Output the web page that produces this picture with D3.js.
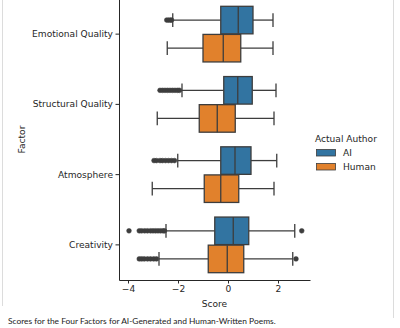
<!DOCTYPE html>
<html><head><meta charset="utf-8">
<script src="https://cdn.jsdelivr.net/npm/d3@7"></script>
<style>html,body{margin:0;padding:0;background:#fff;} svg{display:block}</style>
</head><body><svg id="c" width="400" height="328"></svg>
<script>
const factors = ["Emotional Quality","Structural Quality","Atmosphere","Creativity"];
const authors = ["AI","Human"];
const authorColors = ["#3274a1","#e1812c"];
const xTicks = [-4,-2,0,2];
// [whiskerLow, Q1, median, Q3, whiskerHigh] per factor
const aiStats = [
 [-2.21,-0.29,0.41,1.00,1.80],
 [-1.84,-0.17,0.39,0.97,1.92],
 [-2.01,-0.29,0.28,0.92,1.95],
 [-2.48,-0.53,0.21,0.83,2.67]];
const humanStats = [
 [-2.43,-1.00,-0.19,0.51,1.80],
 [-2.83,-1.15,-0.43,0.29,1.84],
 [-3.03,-0.95,-0.29,0.43,1.84],
 [-2.76,-0.79,-0.03,0.63,2.59]];
const aiOutliers = [
 [-2.45,-2.38,-2.31,-2.26],
 [-2.72,-2.62,-2.52,-2.42,-2.32,-2.22,-2.12,-2.02,-1.94],
 [-2.96,-2.86,-2.72,-2.62,-2.50,-2.38,-2.26,-2.14],
 [-3.96,-3.55,-3.45,-3.33,-3.22,-3.10,-3.00,-2.90,-2.80,-2.70,-2.60,-2.54,2.95]];
const humanOutliers = [
 [],[],[],
 [-3.55,-3.45,-3.35,-3.22,-3.10,-2.97,-2.86,2.72]];

const svg = d3.select("#c");
const edge = "#3d3d3d", ink = "#262626";
const font = "'DejaVu Sans', sans-serif";

// fit chart font size so "Emotional Quality" is ~81px wide
const probe = svg.append("text").attr("font-family", font).attr("font-size", 10).text("Emotional Quality");
const fs = 10 * 81 / probe.node().getComputedTextLength();
probe.remove();

// figure border lines
svg.append("line").attr("x1",2.5).attr("x2",2.5).attr("y1",0).attr("y2",306).attr("stroke","#dcdcdc");
svg.append("line").attr("x1",393.5).attr("x2",393.5).attr("y1",0).attr("y2",318).attr("stroke","#dcdcdc");

const x = d3.scaleLinear().domain([-4.36, 3.28]).range([119, 310]);
const y = d3.scaleBand().domain(factors).range([-1, 280]);
const hue = d3.scaleBand().domain(authors).range([0.1*y.bandwidth(), 0.9*y.bandwidth()]);
const boxH = hue.bandwidth()*0.98;

const fmt = d => d < 0 ? "\u2212" + Math.abs(d) : String(d);

const gx = svg.append("g").attr("transform","translate(0,280)")
  .call(d3.axisBottom(x).tickValues(xTicks).tickFormat(fmt).tickSize(3.5).tickSizeOuter(0).tickPadding(2.5));
const gy = svg.append("g").attr("transform","translate(119,0)")
  .call(d3.axisLeft(y).tickSize(3.5).tickSizeOuter(0).tickPadding(2.5));
[gx, gy].forEach(g => {
  g.selectAll("path,line").attr("stroke", ink).attr("stroke-width", 1);
  g.selectAll("text").attr("fill", ink).attr("font-family", font).attr("font-size", fs);
});

svg.append("text").attr("x", 214.5).attr("y", 306.5).attr("text-anchor","middle")
  .attr("font-family", font).attr("font-size", fs).attr("fill", ink).text("Score");
svg.append("text").attr("transform","translate(25,139.5) rotate(-90)").attr("text-anchor","middle")
  .attr("font-family", font).attr("font-size", fs).attr("fill", ink).text("Factor");

const allStats = [aiStats, humanStats];
const allOut = [aiOutliers, humanOutliers];
const plot = svg.append("g");
authors.forEach((a, j) => {
  factors.forEach((f, i) => {
    const s = allStats[j][i];
    const cy = y(f) + hue(a) + hue.bandwidth()/2;
    const g = plot.append("g");
    const ln = (x1,x2,y1,y2) => g.append("line").attr("x1",x1).attr("x2",x2).attr("y1",y1).attr("y2",y2)
      .attr("stroke", edge).attr("stroke-width", 1.3);
    ln(x(s[0]), x(s[1]), cy, cy);
    ln(x(s[3]), x(s[4]), cy, cy);
    ln(x(s[0]), x(s[0]), cy - boxH/4, cy + boxH/4);
    ln(x(s[4]), x(s[4]), cy - boxH/4, cy + boxH/4);
    g.append("rect").attr("x", x(s[1])).attr("width", x(s[3]) - x(s[1]))
      .attr("y", cy - boxH/2).attr("height", boxH)
      .attr("fill", authorColors[j]).attr("stroke", edge).attr("stroke-width", 1.3);
    ln(x(s[2]), x(s[2]), cy - boxH/2, cy + boxH/2);
    g.selectAll("circle.o").data(allOut[j][i]).enter().append("circle")
      .attr("cx", d => x(d)).attr("cy", cy).attr("r", 2.4)
      .attr("fill", edge).attr("stroke", edge).attr("stroke-width", 0.5);
  });
});

// legend
const lg = svg.append("g");
lg.append("text").attr("x", 315).attr("y", 142).attr("font-family", font).attr("font-size", fs)
  .attr("fill", ink).text("Actual Author");
authors.forEach((a, j) => {
  const cy = 152.5 + j*14;
  lg.append("rect").attr("x", 316.5).attr("y", cy - 3).attr("width", 19).attr("height", 6.5)
    .attr("fill", authorColors[j]).attr("stroke", edge).attr("stroke-width", 0.8);
  lg.append("text").attr("x", 343).attr("y", cy + 3).attr("font-family", font).attr("font-size", fs)
    .attr("fill", ink).text(a);
});

// caption
const cap = svg.append("text").attr("x", 8).attr("y", 323.5).attr("font-family", "Lato, 'Open Sans', sans-serif")
  .attr("font-size", 10).attr("fill", "#222").text("Scores for the Four Factors for AI-Generated and Human-Written Poems.");
const cw = cap.node().getComputedTextLength();
cap.attr("font-size", 10 * 268 / cw);
</script></body></html>
